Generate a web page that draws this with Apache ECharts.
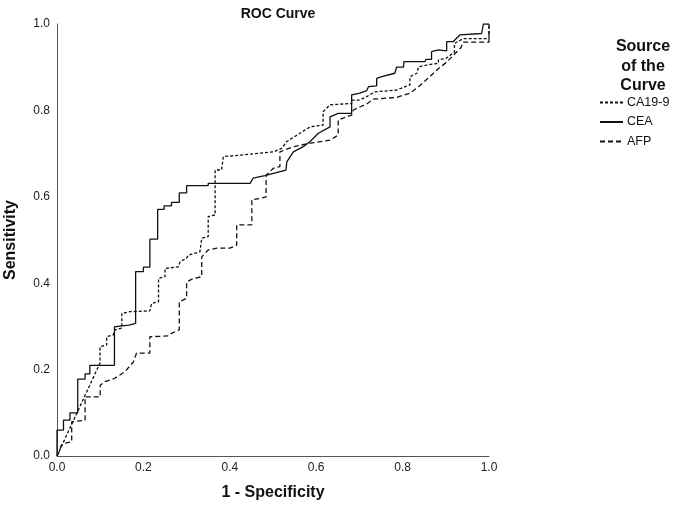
<!DOCTYPE html>
<html>
<head>
<meta charset="utf-8">
<script src="https://cdn.jsdelivr.net/npm/echarts@6/dist/echarts.min.js"></script>
<style>html,body{margin:0;padding:0;background:#fff}#c{width:685px;height:514px}</style>
</head>
<body>
<div id="c"></div>
<script>
// ROC points: [1 - Specificity, Sensitivity]
const seriesNames = ["CA19-9", "CEA", "AFP"];
const xTicks = [0.0, 0.2, 0.4, 0.6, 0.8, 1.0];
const yTicks = [0.0, 0.2, 0.4, 0.6, 0.8, 1.0];

const ca199 = [[0,0],[0.0995,0.215],[0.0995,0.253],[0.115,0.257],[0.115,0.276],[0.130,0.280],[0.134,0.292],[0.150,0.296],[0.150,0.330],[0.169,0.334],[0.215,0.336],[0.219,0.353],[0.235,0.357],[0.235,0.411],[0.25,0.415],[0.25,0.434],[0.281,0.438],[0.285,0.450],[0.300,0.458],[0.304,0.465],[0.331,0.473],[0.335,0.504],[0.350,0.508],[0.350,0.554],[0.366,0.558],[0.366,0.662],[0.381,0.662],[0.385,0.693],[0.431,0.697],[0.435,0.700],[0.501,0.704],[0.520,0.712],[0.532,0.728],[0.586,0.762],[0.616,0.766],[0.616,0.797],[0.632,0.813],[0.682,0.816],[0.682,0.824],[0.701,0.824],[0.717,0.832],[0.736,0.843],[0.786,0.847],[0.817,0.859],[0.817,0.878],[0.833,0.886],[0.837,0.901],[0.856,0.905],[0.883,0.909],[0.883,0.917],[0.900,0.920],[0.920,0.935],[0.920,0.955],[0.940,0.966],[1.0,0.966],[1.0,1.0]];

const cea = [[0,0],[0,0.06],[0.015,0.06],[0.015,0.083],[0.03,0.083],[0.03,0.10],[0.048,0.10],[0.048,0.178],[0.065,0.178],[0.065,0.19],[0.076,0.19],[0.076,0.21],[0.133,0.21],[0.133,0.299],[0.150,0.301],[0.167,0.303],[0.167,0.307],[0.182,0.307],[0.182,0.427],[0.2,0.427],[0.2,0.437],[0.215,0.437],[0.215,0.502],[0.233,0.502],[0.233,0.571],[0.248,0.571],[0.248,0.579],[0.265,0.579],[0.265,0.587],[0.283,0.587],[0.283,0.609],[0.30,0.609],[0.30,0.626],[0.350,0.626],[0.350,0.631],[0.447,0.631],[0.454,0.643],[0.481,0.649],[0.53,0.662],[0.532,0.681],[0.547,0.704],[0.570,0.716],[0.586,0.728],[0.605,0.747],[0.632,0.762],[0.632,0.785],[0.651,0.793],[0.682,0.793],[0.682,0.836],[0.701,0.840],[0.717,0.846],[0.721,0.855],[0.740,0.857],[0.740,0.874],[0.752,0.878],[0.782,0.886],[0.786,0.900],[0.802,0.900],[0.803,0.913],[0.852,0.913],[0.854,0.918],[0.867,0.918],[0.867,0.936],[0.883,0.940],[0.902,0.938],[0.902,0.959],[0.917,0.959],[0.933,0.975],[0.983,0.978],[0.987,1.0],[1.0,1.0]];

const afp = [[0,0],[0.005,0.01],[0.01,0.025],[0.02,0.03],[0.034,0.033],[0.034,0.079],[0.065,0.083],[0.065,0.137],[0.1,0.137],[0.1,0.164],[0.111,0.172],[0.134,0.18],[0.157,0.195],[0.177,0.218],[0.184,0.238],[0.215,0.238],[0.215,0.276],[0.258,0.278],[0.265,0.284],[0.283,0.292],[0.283,0.357],[0.300,0.365],[0.300,0.403],[0.316,0.411],[0.335,0.415],[0.335,0.461],[0.350,0.477],[0.370,0.481],[0.400,0.481],[0.416,0.488],[0.416,0.535],[0.451,0.535],[0.451,0.593],[0.470,0.596],[0.484,0.600],[0.484,0.650],[0.501,0.666],[0.516,0.670],[0.516,0.704],[0.547,0.716],[0.586,0.724],[0.632,0.731],[0.651,0.743],[0.651,0.778],[0.682,0.789],[0.686,0.801],[0.717,0.815],[0.732,0.826],[0.786,0.830],[0.817,0.840],[0.837,0.855],[0.863,0.878],[0.883,0.897],[0.900,0.910],[0.920,0.930],[0.935,0.945],[0.940,0.958],[1.0,0.958],[1.0,1.0]];

const dashes = {"CA19-9": [3, 2], "CEA": "solid", "AFP": [5, 3]};
const dataMap = {"CA19-9": ca199, "CEA": cea, "AFP": afp};

const chart = echarts.init(document.getElementById('c'), null, {renderer: 'canvas'});
const font = 'Arial, "Liberation Sans", sans-serif';
chart.setOption({
  animation: false,
  textStyle: {fontFamily: font},
  title: [
    {text: 'ROC Curve', left: 273, top: 2, textAlign: 'center',
     textStyle: {fontSize: 14, fontWeight: 'bold', color: '#111', fontFamily: font}},
    {text: 'Source\nof the\nCurve', left: 638, top: 32, textAlign: 'center',
     textStyle: {fontSize: 16, fontWeight: 'bold', color: '#111', lineHeight: 19.5, fontFamily: font}}
  ],
  legend: {
    orient: 'vertical', left: 599, top: 96, padding: 0, itemWidth: 23, itemHeight: 10, itemGap: 6.5,
    data: seriesNames, selectedMode: false,
    itemStyle: {opacity: 0, borderWidth: 0},
    textStyle: {fontSize: 12.5, color: '#111', fontFamily: font, padding: [0,0,0,-1]}
  },
  grid: {left: 57, right: 196, top: 24, bottom: 58, outerBoundsMode: 'none', containLabel: false},
  xAxis: {
    type: 'value', min: 0, max: 1, interval: 0.2,
    name: '1 - Specificity', nameLocation: 'middle', nameGap: 29,
    nameTextStyle: {fontSize: 16, fontWeight: 'bold', color: '#111', fontFamily: font},
    axisLine: {lineStyle: {color: '#555', width: 1}},
    axisTick: {show: false}, splitLine: {show: false},
    axisLabel: {fontSize: 12, color: '#222', margin: 6, formatter: v => xTicks.includes(+v.toFixed(1)) ? v.toFixed(1) : ''}
  },
  yAxis: {
    type: 'value', min: 0, max: 1, interval: 0.2,
    name: 'Sensitivity', nameLocation: 'middle', nameGap: 38,
    nameTextStyle: {fontSize: 16, fontWeight: 'bold', color: '#111', fontFamily: font},
    axisLine: {show: true, lineStyle: {color: '#555', width: 1}},
    axisTick: {show: false}, splitLine: {show: false},
    axisLabel: {fontSize: 12, color: '#222', margin: 7, formatter: v => yTicks.includes(+v.toFixed(1)) ? v.toFixed(1) : ''}
  },
  series: seriesNames.map(n => ({
    name: n, type: 'line', data: dataMap[n], showSymbol: false, symbol: 'none',
    lineStyle: {color: '#111', width: 1.3, type: dashes[n]},
    itemStyle: {color: '#111'}
  }))
});
</script>
</body>
</html>
